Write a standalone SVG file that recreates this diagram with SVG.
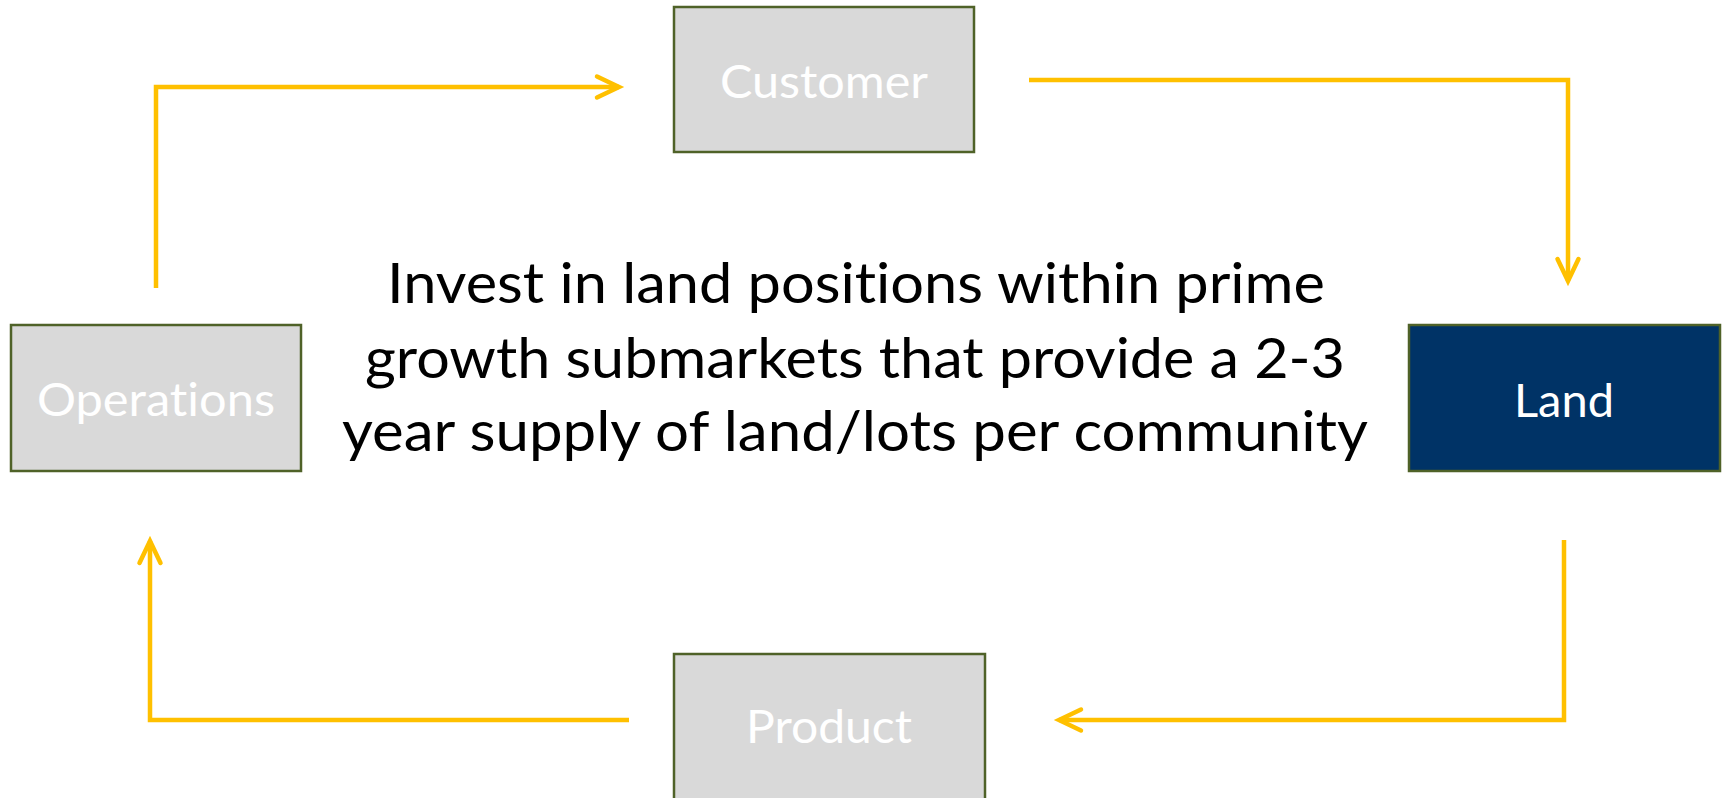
<svg xmlns="http://www.w3.org/2000/svg" width="1725" height="798" viewBox="0 0 1725 798">
<style>
.box{fill:#D9D9D9;stroke:#4F6228;stroke-width:2.5}
.land{fill:#003366;stroke:#4F6228;stroke-width:2.5}
.lbl{font-family:Lato,"Open Sans","Liberation Sans",sans-serif;font-size:47px;fill:#FFFFFF;text-anchor:middle;font-variant-ligatures:none;font-feature-settings:"liga" 0,"dlig" 0}
.main{font-family:Lato,"Open Sans","Liberation Sans",sans-serif;font-size:56px;fill:#000000;text-anchor:middle;font-variant-ligatures:none;font-feature-settings:"liga" 0,"dlig" 0}
.conn{fill:none;stroke:#FFC000;stroke-width:4.5;stroke-linejoin:miter}
</style>
<defs>
<marker id="arr" markerUnits="userSpaceOnUse" viewBox="-30 -16 36 32" refX="0" refY="0" markerWidth="36" markerHeight="32" orient="auto">
<path d="M-22,-10.5 L0,0 L-22,10.5" fill="none" stroke="#FFC000" stroke-width="4.5" stroke-linecap="round" stroke-linejoin="miter"/>
</marker>
</defs>
<rect width="1725" height="798" fill="#FFFFFF"/>
<g id="connectors">
<path class="conn" d="M156,288 L156,87 L619,87" marker-end="url(#arr)"/>
<path class="conn" d="M1029,80 L1568,80 L1568,281" marker-end="url(#arr)"/>
<path class="conn" d="M1564,540 L1564,720 L1059,720" marker-end="url(#arr)"/>
<path class="conn" d="M629,720 L150,720 L150,541" marker-end="url(#arr)"/>
</g>
<g id="customer">
<rect class="box" x="674" y="7" width="300" height="145"/>
<text class="lbl" x="824" y="98" textLength="208" lengthAdjust="spacingAndGlyphs">Customer</text>
</g>
<g id="operations">
<rect class="box" x="11" y="325" width="290" height="146"/>
<text class="lbl" x="156" y="416" textLength="238" lengthAdjust="spacingAndGlyphs">Operations</text>
</g>
<g id="land">
<rect class="land" x="1409" y="325" width="311" height="146"/>
<text class="lbl" x="1564" y="417" textLength="100" lengthAdjust="spacingAndGlyphs">Land</text>
</g>
<g id="product">
<rect class="box" x="674" y="654" width="311" height="150"/>
<text class="lbl" x="829" y="743" textLength="166" lengthAdjust="spacingAndGlyphs">Product</text>
</g>
<g id="center-text">
<text class="main" x="856" y="303" textLength="938" lengthAdjust="spacingAndGlyphs">Invest in land positions within prime</text>
<text class="main" x="855" y="378" textLength="980" lengthAdjust="spacingAndGlyphs">growth submarkets that provide a 2-3</text>
<text class="main" x="855" y="451" textLength="1026" lengthAdjust="spacingAndGlyphs">year supply of land/lots per community</text>
</g>
</svg>
